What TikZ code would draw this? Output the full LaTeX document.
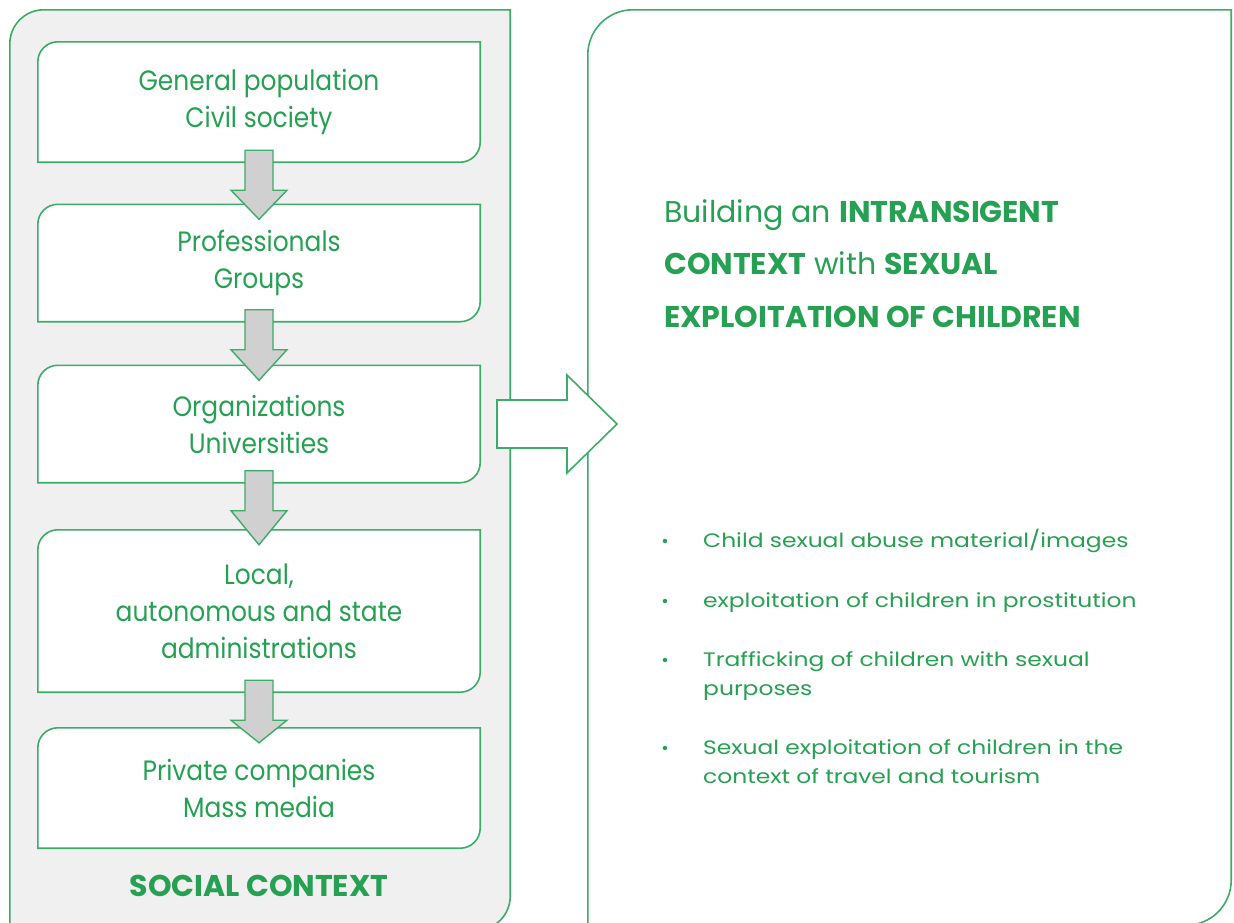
\documentclass[tikz,border=0pt]{standalone}
\usepackage{fontspec}
\setmainfont{Poppins}
\newfontfamily\stagefont[FakeStretch=0.89]{Poppins}
\newfontfamily\itemfont[FakeStretch=1.2]{Poppins}
\usetikzlibrary{positioning,backgrounds}

\definecolor{framegreen}{RGB}{60,172,104}
\definecolor{textgreen}{RGB}{38,160,82}
\definecolor{panelgray}{RGB}{240,240,240}
\definecolor{arrowgray}{RGB}{208,208,208}

\tikzset{
  frame/.style={draw=framegreen, line width=1.6pt},
  stagebox/.style={minimum width=442pt, inner sep=0pt, align=center, text=textgreen,
    font=\stagefont\fontsize{28}{37}\selectfont},
  flowarrow/.style={draw=framegreen, line width=1.4pt, fill=arrowgray, line join=miter},
  bigarrow/.style={draw=framegreen, line width=1.6pt, fill=white},
  bullet/.style={anchor=base west, inner sep=0pt, align=left, text=textgreen,
    font=\itemfont\fontsize{19.5}{28.5}\selectfont}
}

% outline with rounded top-left and bottom-right corners
\newcommand\diagframe[3]{%
  \draw[#3] ([xshift=#2pt]#1.north west) -- (#1.north east) -- ([yshift=#2pt]#1.south east)
    arc[start angle=0, end angle=-90, radius=#2pt] -- (#1.south west)
    -- ([yshift=-#2pt]#1.north west) arc[start angle=180, end angle=90, radius=#2pt] -- cycle;}

% grey block arrow from one stage to the next
\newcommand\flowstep[2]{%
  \draw[flowarrow] ([xshift=-14pt,yshift=12pt]#1.south) -- ([xshift=-14pt,yshift=-28pt]#1.south)
    -- ([xshift=-28pt,yshift=-28pt]#1.south) -- ([yshift=-15pt]#2.north)
    -- ([xshift=28pt,yshift=-28pt]#1.south) -- ([xshift=14pt,yshift=-28pt]#1.south)
    -- ([xshift=14pt,yshift=12pt]#1.south) -- cycle;}

\begin{document}
\begin{tikzpicture}[x=1pt, y=-1pt]
\useasboundingbox (0,0) rectangle (1234,922);

% panels
\node[minimum width=500pt, minimum height=920pt, inner sep=0pt] (social) at (260,470) {};
\node[minimum width=643pt, minimum height=915pt, inner sep=0pt] (goal) at (909.5,467.5) {};

% stages
\node[stagebox, minimum height=120pt] (population) at (259,102) {General population\\Civil society};
\node[stagebox, minimum height=117pt] (professionals) at (259,263) {Professionals\\Groups};
\node[stagebox, minimum height=117pt] (organizations) at (259,424) {Organizations\\Universities};
\node[stagebox, minimum height=162pt] (administrations) at (259,611) {Local,\\autonomous and state\\administrations};
\node[stagebox, minimum height=120pt] (companies) at (259,788) {Private companies\\Mass media};

\begin{scope}[on background layer]
\fill[white] (0,0) rectangle (1234,922);
\diagframe{social}{34}{frame, fill=panelgray}
\diagframe{goal}{45}{frame, fill=white}
\diagframe{population}{20}{frame, fill=white}
\diagframe{professionals}{20}{frame, fill=white}
\diagframe{organizations}{20}{frame, fill=white}
\diagframe{administrations}{20}{frame, fill=white}
\diagframe{companies}{20}{frame, fill=white}
\end{scope}

\flowstep{population}{professionals}
\flowstep{professionals}{organizations}
\flowstep{organizations}{administrations}
\flowstep{administrations}{companies}

\node[text=textgreen, font=\fontsize{30}{36}\selectfont\bfseries, anchor=base] (socialtitle) at (259,896) {SOCIAL CONTEXT};

% big arrow between panels
\coordinate (from) at (497,424);
\coordinate (to) at (617,424);
\draw[bigarrow] ([yshift=24pt]from) -- ([xshift=-50pt,yshift=24pt]to) -- ([xshift=-50pt,yshift=49pt]to)
  -- (to) -- ([xshift=-50pt,yshift=-49pt]to) -- ([xshift=-50pt,yshift=-24pt]to)
  -- ([yshift=-24pt]from) -- cycle;

% goal text
\node[anchor=base west, inner sep=0pt, align=left, text=textgreen,
  font=\fontsize{30}{52.5}\selectfont] (goaltitle) at (664,327)
  {Building an \textbf{INTRANSIGENT}\\\textbf{CONTEXT} with \textbf{SEXUAL}\\\textbf{EXPLOITATION OF CHILDREN}};

\node[bullet] (item1) at (703,547) {Child sexual abuse material/images};
\node[bullet] (item2) at (703,607) {exploitation of children in prostitution};
\node[bullet] (item3) at (703,695) {Trafficking of children with sexual\\purposes};
\node[bullet] (item4) at (703,783) {Sexual exploitation of children in the\\context of travel and tourism};
\foreach \i/\up in {1/0,2/0,3/28.5,4/28.5}
  \node[text=textgreen, font=\fontsize{18}{28}\selectfont, anchor=base] at ([xshift=-38pt,yshift=\up pt]item\i.base west) {•};
\end{tikzpicture}
\end{document}
